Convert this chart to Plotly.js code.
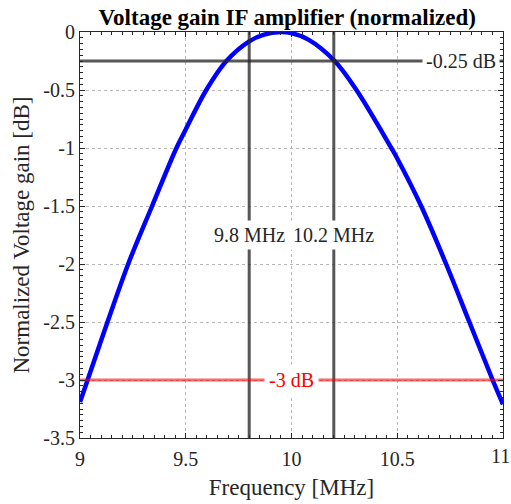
<!DOCTYPE html>
<html><head><meta charset="utf-8">
<script src="https://cdn.plot.ly/plotly-3.0.1.min.js"></script>
<style>html,body{margin:0;padding:0;background:#fff}#plot{width:511px;height:504px}</style>
</head><body><div id="plot"></div>
<script>
const freq = [9.0, 9.036, 9.130, 9.228, 9.341, 9.456, 9.5, 9.597, 9.692, 9.8, 9.87, 9.948, 10.0, 10.08, 10.204, 10.307, 10.472, 10.5, 10.613, 10.731, 10.841, 10.951, 11.0];
const gain = [-3.19, -3.0, -2.5, -2.0, -1.5, -1.0, -0.84, -0.5, -0.25, -0.08, -0.023, 0, -0.01, -0.066, -0.25, -0.5, -1.0, -1.09, -1.5, -2.0, -2.5, -3.0, -3.21];
const markFreqs = [9.8, 10.2];
const markFreqLabels = ['9.8 MHz', '10.2 MHz'];
const passLevel = -0.25;
const passLabel = '-0.25 dB';
const cutLevel = -3;
const cutLabel = '-3 dB';
const xTicks = [9, 9.5, 10, 10.5, 11];
const xTickText = ['9', '9.5', '10', '10.5', '11'];
const yTicks = [0, -0.5, -1, -1.5, -2, -2.5, -3, -3.5];

const font = '"Liberation Serif", "Times New Roman", Times, serif';
const greyLine = 'rgba(40,40,40,0.78)';
const traces = [
  {x: freq, y: gain, mode: 'lines', line: {color: '#0000ff', width: 4.5, shape: 'spline', smoothing: 1}, hoverinfo: 'skip'}
];
markFreqs.forEach(f => traces.push({x: [f, f], y: [0, -3.5], mode: 'lines', line: {color: greyLine, width: 3}, hoverinfo: 'skip'}));
traces.push({x: [9, 11], y: [passLevel, passLevel], mode: 'lines', line: {color: greyLine, width: 3}, hoverinfo: 'skip'});
traces.push({x: [9, 11], y: [cutLevel, cutLevel], mode: 'lines', line: {color: 'rgba(255,0,0,0.6)', width: 3}, hoverinfo: 'skip'});

const annotations = markFreqs.map((f, i) => ({
  x: f, y: -1.75, xref: 'x', yref: 'y', text: markFreqLabels[i], showarrow: false,
  font: {family: font, size: 20, color: '#262626'}, bgcolor: '#ffffff', borderpad: 3
}));
annotations.push({x: 10.985, y: passLevel, xref: 'x', yref: 'y', xanchor: 'right', text: passLabel, showarrow: false,
  font: {family: font, size: 20, color: '#262626'}, bgcolor: '#ffffff', borderpad: 3});
annotations.push({x: 10.0, y: cutLevel, xref: 'x', yref: 'y', text: cutLabel, showarrow: false,
  font: {family: font, size: 20, color: '#ff0000'}, bgcolor: '#ffffff', borderpad: 4});
// last x tick label, nudged left so it stays inside the page
annotations.push({x: 1, y: 0, xref: 'paper', yref: 'paper', xanchor: 'center', yanchor: 'top', xshift: -3, yshift: -5,
  text: xTickText[xTickText.length - 1], showarrow: false, font: {family: font, size: 20, color: '#262626'}});

const axisCommon = {
  showline: true, linecolor: '#262626', linewidth: 1, mirror: 'allticks',
  ticks: 'inside', ticklen: 5, tickcolor: '#262626',
  showgrid: true, gridcolor: '#b8b8b8', griddash: 'dot', gridwidth: 1,
  zeroline: false, tickfont: {family: font, size: 20, color: '#262626'}
};
const layout = {
  width: 511, height: 504, showlegend: false,
  paper_bgcolor: '#ffffff', plot_bgcolor: '#ffffff',
  margin: {l: 80, r: 8, t: 32, b: 66},
  title: {text: '<b>Voltage gain IF amplifier (normalized)</b>', font: {family: font, size: 23, color: '#000'},
    xref: 'paper', x: 0.49, xanchor: 'center', y: 0.967, yanchor: 'middle'},
  xaxis: Object.assign({}, axisCommon, {range: [9, 11], tickvals: xTicks,
    ticktext: xTickText.map((t, i) => i === xTickText.length - 1 ? '' : t), ticklabelstandoff: 3,
    minor: {ticks: 'inside', ticklen: 3, dtick: 0.05, tickcolor: '#262626', showgrid: false},
    title: {text: 'Frequency [MHz]', font: {family: font, size: 23, color: '#262626'}, standoff: 9}}),
  yaxis: Object.assign({}, axisCommon, {range: [-3.5, 0], tickvals: yTicks, ticktext: yTicks.map(String),
    minor: {ticks: 'inside', ticklen: 3, dtick: 0.05, tickcolor: '#262626', showgrid: false},
    title: {text: 'Normalized Voltage gain [dB]', font: {family: font, size: 23, color: '#262626'}, standoff: 7}}),
  annotations: annotations
};
Plotly.newPlot('plot', traces, layout, {displayModeBar: false, staticPlot: true});
</script></body></html>
